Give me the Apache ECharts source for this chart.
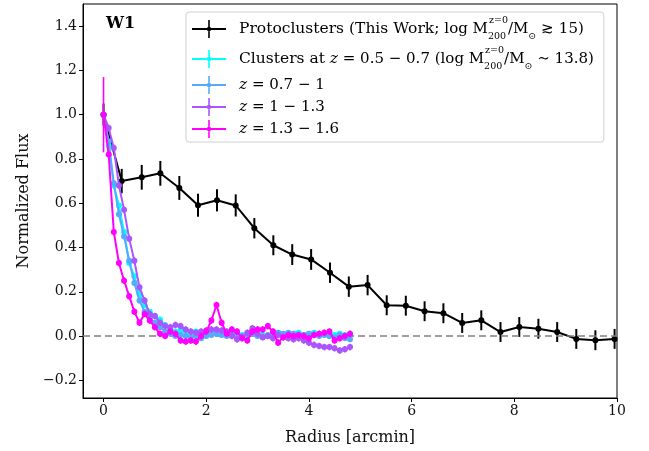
<!DOCTYPE html>
<html>
<head>
<meta charset="utf-8">
<script src="https://cdn.jsdelivr.net/npm/echarts@6/dist/echarts.min.js"></script>
<style>
html,body{margin:0;padding:0;background:#fff}
#main{width:649px;height:451px}
</style>
</head>
<body>
<div id="main"></div>
<script>
// 原型星系团 (black)
var protoR = [0, 0.354, 0.744, 1.106, 1.476, 1.840, 2.210, 2.574, 2.937, 3.307, 3.675, 4.043, 4.411, 4.777,
  5.143, 5.515, 5.887, 6.253, 6.619, 6.985, 7.357, 7.731, 8.097, 8.469, 8.835, 9.207, 9.579, 9.953];
var protoFlux = [1.0, 0.70, 0.717, 0.735, 0.669, 0.591, 0.613, 0.59, 0.487, 0.41, 0.368, 0.346, 0.286, 0.223,
  0.23, 0.139, 0.137, 0.112, 0.103, 0.059, 0.071, 0.018, 0.041, 0.033, 0.018, -0.013, -0.019, -0.013];
var protoErr = [0.05, 0.055, 0.056, 0.056, 0.054, 0.052, 0.05, 0.05, 0.046, 0.045, 0.047, 0.047, 0.046, 0.046,
  0.046, 0.045, 0.045, 0.045, 0.045, 0.045, 0.045, 0.045, 0.045, 0.045, 0.045, 0.045, 0.045, 0.045];

// 星系团 radius grid
var clusterR = [0, 0.1, 0.2, 0.3, 0.4, 0.5, 0.6, 0.7, 0.8, 0.9, 1.0, 1.1, 1.2, 1.3, 1.4, 1.5, 1.6, 1.7, 1.8, 1.9,
  2.0, 2.1, 2.2, 2.3, 2.4, 2.5, 2.6, 2.7, 2.8, 2.9, 3.0, 3.1, 3.2, 3.3, 3.4, 3.5, 3.6, 3.7, 3.8, 3.9,
  4.0, 4.1, 4.2, 4.3, 4.4, 4.5, 4.6, 4.7, 4.8];
var fluxZ05 = [1.0, 0.86, 0.68, 0.59, 0.47, 0.33, 0.27, 0.19, 0.14, 0.11, 0.09, 0.075, 0.05, 0.03, 0.02, 0.025, 0.02, 0.015, 0.02, 0.015,
  0.02, 0.025, 0.02, 0.015, 0.01, 0.015, 0.01, 0.005, 0.01, 0.015, 0.01, 0.005, 0.0, 0.01, 0.015, 0.01, 0.005, 0.01, 0.015, 0.005,
  0.01, 0.015, 0.005, 0.01, 0.0, 0.005, 0.01, 0.005, 0.005];
var fluxZ07 = [1.0, 0.88, 0.69, 0.55, 0.45, 0.34, 0.24, 0.16, 0.11, 0.08, 0.06, 0.04, 0.02, 0.01, 0.0, 0.005, 0.0, -0.005, 0.0, -0.01,
  0.0, 0.005, 0.01, 0.005, 0.0, 0.01, 0.005, 0.0, 0.005, 0.01, 0.0, -0.005, 0.005, 0.01, 0.015, 0.01, 0.015, 0.01, 0.0, 0.005,
  0.01, 0.005, 0.0, 0.005, 0.0, -0.005, 0.005, -0.01, -0.015];
var fluxZ10 = [1.0, 0.94, 0.85, 0.68, 0.57, 0.44, 0.34, 0.22, 0.16, 0.10, 0.09, 0.06, 0.045, 0.04, 0.05, 0.045, 0.03, 0.02, 0.015, 0.02,
  0.025, 0.03, 0.03, 0.025, 0.02, 0.0, -0.015, -0.005, 0.015, 0.035, 0.01, -0.005, 0.0, -0.01, 0.005, -0.005, -0.01, -0.015, -0.01, -0.02,
  -0.03, -0.04, -0.045, -0.05, -0.05, -0.055, -0.065, -0.06, -0.05];
var fluxZ13 = [1.0, 0.82, 0.47, 0.33, 0.25, 0.18, 0.11, 0.06, 0.10, 0.07, 0.04, 0.01, 0.0, 0.02, 0.01, -0.02, -0.025, -0.02, -0.025, 0.0,
  0.02, 0.07, 0.14, 0.06, 0.01, 0.03, 0.02, -0.01, -0.02, 0.02, 0.03, 0.03, 0.045, 0.02, -0.03, -0.005, 0.005, 0.0, 0.005, 0.0,
  -0.01, 0.005, 0.01, 0.015, 0.02, -0.02, -0.01, 0.0, 0.01];
var errZ05 = 0.012, errZ07 = 0.012, errZ10 = 0.015, errZ13 = 0.015, errZ13First = 0.17;

var xTicks = [0, 2, 4, 6, 8, 10];
var yTicks = [-0.2, 0, 0.2, 0.4, 0.6, 0.8, 1.0, 1.2, 1.4];

var names = ['Protoclusters', 'Clusters z=0.5-0.7', 'z=0.7-1', 'z=1-1.3', 'z=1.3-1.6'];
var colors = ['#000000', '#00ffff', '#55aaff', '#aa55ff', '#ff00ff'];
var legendText = {
  'Protoclusters': '{t|Protoclusters (This Work; }{m|log M}{sub|200}{sup|z=0}{m|/M}{sub2|⊙}{m| ≳ 15)}',
  'Clusters z=0.5-0.7': '{t|Clusters at }{i|z}{m| = 0.5 − 0.7 (log M}{sub|200}{sup|z=0}{m|/M}{sub2|⊙}{m| ∼ 13.8)}',
  'z=0.7-1': '{iz|z}{mz| = 0.7 − 1}',
  'z=1-1.3': '{iz|z}{mz| = 1 − 1.3}',
  'z=1.3-1.6': '{iz|z}{mz| = 1.3 − 1.6}'
};
var FONT = 'DejaVu Serif';
var iconPath = 'path://M0,8 L34,8 L34,10 L0,10 Z M16.2,0 L17.8,0 L17.8,18 L16.2,18 Z M17,6.8 A2.2,2.2 0 1 1 16.99,6.8 Z';

function pairs(xs, ys) {
  return xs.map(function (x, i) { return [x, ys[i]]; });
}
function errData(xs, ys, es) {
  return xs.map(function (x, i) {
    var e = (typeof es === 'number') ? es : es[i];
    return [x, ys[i], e];
  });
}
function errSeries(id, data, color, width, z) {
  return {
    type: 'custom', name: id, z: z, silent: true,
    data: data,
    encode: { x: 0, y: 1 },
    renderItem: function (params, api) {
      var x = api.value(0), y = api.value(1), e = api.value(2);
      var p1 = api.coord([x, y - e]), p2 = api.coord([x, y + e]);
      return { type: 'line', shape: { x1: p1[0], y1: p1[1], x2: p2[0], y2: p2[1] },
        style: { stroke: color, lineWidth: width } };
    }
  };
}
function lineSeries(name, data, color, size, z) {
  return {
    type: 'line', name: name, data: data, z: z,
    symbol: 'circle', symbolSize: size, showSymbol: true,
    color: color,
    lineStyle: { color: color, width: 2 },
    itemStyle: { color: color },
    emphasis: { disabled: true },
    animation: false
  };
}

var e13 = fluxZ13.map(function (v, i) { return i === 0 ? errZ13First : errZ13; });

var chart = echarts.init(document.getElementById('main'));
var black = lineSeries(names[0], pairs(protoR, protoFlux), colors[0], 6, 3);
black.markLine = {
  silent: true, symbol: 'none', label: { show: false },
  lineStyle: { color: '#808080', width: 1.5, type: [7, 4] },
  data: [{ yAxis: 0 }]
};

chart.setOption({
  animation: false,
  title: { text: 'W1', left: 101, top: 11,
    textStyle: { fontFamily: FONT, fontWeight: 'bold', fontSize: 16, color: '#000' } },
  grid: { left: 83, right: 32, top: 4, bottom: 53, show: true, borderColor: '#000', borderWidth: 1, outerBoundsMode: 'none' },
  legend: {
    data: names, orient: 'vertical', left: 186, top: 12,
    padding: [4, 10, 4, 6], itemGap: 4, itemWidth: 34, itemHeight: 18,
    icon: iconPath, backgroundColor: '#fff', borderColor: '#d0d0d0', borderWidth: 1, borderRadius: 3,
    selectedMode: false,
    formatter: function (n) { return legendText[n]; },
    textStyle: {
      padding: [0, 0, 0, 8],
      rich: {
        t: { fontFamily: FONT, fontSize: 15.5, color: '#000', lineHeight: 21, verticalAlign: 'middle' },
        m: { fontFamily: FONT, fontSize: 15, color: '#000', lineHeight: 21, verticalAlign: 'middle' },
        i: { fontFamily: FONT, fontStyle: 'italic', fontSize: 15.5, color: '#000', lineHeight: 21, verticalAlign: 'middle' },
        iz: { fontFamily: FONT, fontStyle: 'italic', fontSize: 15.5, color: '#000', lineHeight: 24, verticalAlign: 'middle' },
        mz: { fontFamily: FONT, fontSize: 15, color: '#000', lineHeight: 24, verticalAlign: 'middle' },
        sub: { fontFamily: FONT, fontSize: 9.5, color: '#000', lineHeight: 26, verticalAlign: 'bottom', width: 1 },
        sup: { fontFamily: FONT, fontSize: 9.5, color: '#000', lineHeight: 26, verticalAlign: 'top' },
        sub2: { fontFamily: FONT, fontSize: 9.5, color: '#000', lineHeight: 26, verticalAlign: 'bottom' }
      }
    }
  },
  xAxis: {
    type: 'value', min: -0.4, max: 10,
    name: 'Radius [arcmin]', nameLocation: 'middle', nameGap: 32,
    nameTextStyle: { fontFamily: FONT, fontSize: 16, color: '#111' },
    axisLine: { show: true, onZero: false, lineStyle: { color: '#000', width: 1 } },
    axisTick: { show: true, length: 4, customValues: xTicks, lineStyle: { color: '#000' } },
    axisLabel: { customValues: xTicks, fontFamily: FONT, fontSize: 14, color: '#111', margin: 6 },
    splitLine: { show: false }
  },
  yAxis: {
    type: 'value', min: -0.28, max: 1.5,
    name: 'Normalized Flux', nameLocation: 'middle', nameGap: 51, nameRotate: 90,
    nameTextStyle: { fontFamily: FONT, fontSize: 16, color: '#111' },
    axisLine: { show: true, onZero: false, lineStyle: { color: '#000', width: 1 } },
    axisTick: { show: true, length: 4, customValues: yTicks, lineStyle: { color: '#000' } },
    axisLabel: { customValues: yTicks, fontFamily: FONT, fontSize: 14, color: '#111', margin: 6,
      formatter: function (v) { var s = Math.abs(v).toFixed(1); return v < -1e-9 ? '\u2212' + s : s; } },
    splitLine: { show: false }
  },
  series: [
    black,
    errSeries('err0', errData(protoR, protoFlux, protoErr), colors[0], 2, 3),
    lineSeries(names[1], pairs(clusterR, fluxZ05), colors[1], 6, 4),
    errSeries('err1', errData(clusterR, fluxZ05, errZ05), colors[1], 1.6, 4),
    lineSeries(names[2], pairs(clusterR, fluxZ07), colors[2], 6, 5),
    errSeries('err2', errData(clusterR, fluxZ07, errZ07), colors[2], 1.6, 5),
    lineSeries(names[3], pairs(clusterR, fluxZ10), colors[3], 6, 6),
    errSeries('err3', errData(clusterR, fluxZ10, errZ10), colors[3], 1.6, 6),
    lineSeries(names[4], pairs(clusterR, fluxZ13), colors[4], 6, 7),
    errSeries('err4', errData(clusterR, fluxZ13, e13), colors[4], 1.6, 7)
  ]
});
</script>
</body>
</html>
